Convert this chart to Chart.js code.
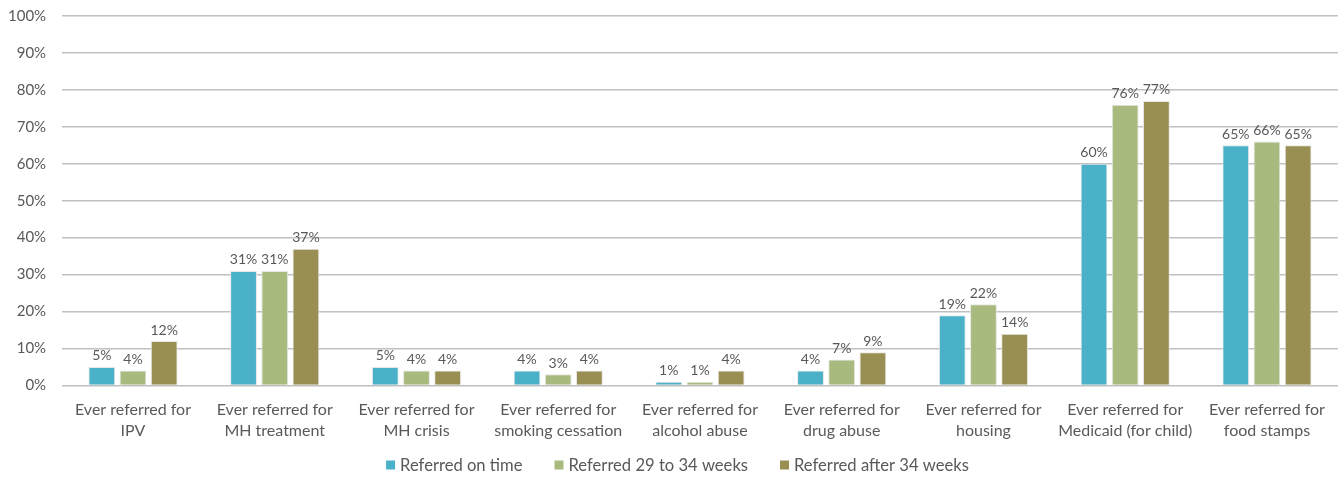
<!DOCTYPE html>
<html>
<head>
<meta charset="utf-8">
<script src="https://cdn.jsdelivr.net/npm/chart.js@4/dist/chart.umd.min.js"></script>
<style>
  html, body { margin: 0; padding: 0; background: #fff; }
  #wrap { width: 1339px; height: 479px; }
</style>
</head>
<body>
<div id="wrap"><canvas id="c" width="1339" height="479"></canvas></div>
<script>
const categories = [
  ["Ever referred for", "IPV"],
  ["Ever referred for", "MH treatment"],
  ["Ever referred for", "MH crisis"],
  ["Ever referred for", "smoking cessation"],
  ["Ever referred for", "alcohol abuse"],
  ["Ever referred for", "drug abuse"],
  ["Ever referred for", "housing"],
  ["Ever referred for", "Medicaid (for child)"],
  ["Ever referred for", "food stamps"]
];
const seriesNames = ["Referred on time", "Referred 29 to 34 weeks", "Referred after 34 weeks"];
const onTime = [5, 31, 5, 4, 1, 4, 19, 60, 65];
const weeks29to34 = [4, 31, 4, 3, 1, 7, 22, 76, 66];
const after34 = [12, 37, 4, 4, 4, 9, 14, 77, 65];
const yTicks = [0, 10, 20, 30, 40, 50, 60, 70, 80, 90, 100];

const colors = ["#4BB1C8", "#A8BA7E", "#9A8F53"];
const FONT = "Lato, 'Open Sans', sans-serif";
const TEXT = "#595959";

// Draws the percentage value just above each bar
const valueLabels = {
  id: "valueLabels",
  afterDatasetsDraw(chart) {
    const ctx = chart.ctx;
    ctx.save();
    ctx.font = "14px " + FONT;
    ctx.fillStyle = TEXT;
    ctx.textAlign = "center";
    ctx.textBaseline = "bottom";
    chart.data.datasets.forEach((ds, i) => {
      chart.getDatasetMeta(i).data.forEach((bar, j) => {
        ctx.fillText(ds.data[j] + "%", bar.x, bar.y - 4);
      });
    });
    ctx.restore();
  }
};

// Legend row along the bottom: small square swatch, then the series name
const bottomLegend = {
  id: "bottomLegend",
  afterDraw(chart) {
    const ctx = chart.ctx;
    const box = 9, boxGap = 5, itemGap = 32;
    ctx.save();
    ctx.font = "16.6px " + FONT;
    ctx.textBaseline = "middle";
    ctx.textAlign = "left";
    const ds = chart.data.datasets;
    const widths = ds.map(d => box + boxGap + ctx.measureText(d.label).width);
    const total = widths.reduce((a, b) => a + b, 0) + itemGap * (ds.length - 1);
    let x = chart.width / 2 + 8 - total / 2;
    const y = chart.height - 14;
    ds.forEach((d, i) => {
      ctx.fillStyle = d.backgroundColor;
      ctx.fillRect(x, y - box / 2, box, box);
      ctx.fillStyle = TEXT;
      ctx.fillText(d.label, x + box + boxGap, y + 1);
      x += widths[i] + itemGap;
    });
    ctx.restore();
  }
};

const series = [onTime, weeks29to34, after34];
new Chart(document.getElementById("c"), {
  type: "bar",
  data: {
    labels: categories,
    datasets: series.map((d, i) => ({
      label: seriesNames[i],
      data: d,
      backgroundColor: colors[i],
      borderColor: "#e6e6e6",
      borderWidth: 1,
      categoryPercentage: 0.66,
      barPercentage: 0.86
    }))
  },
  options: {
    responsive: false,
    animation: false,
    layout: { padding: { left: -8, right: 1, top: 16, bottom: 24 } },
    plugins: {
      legend: { display: false },
      tooltip: { enabled: false }
    },
    scales: {
      x: {
        grid: { display: false, drawTicks: false },
        border: { color: "#bfbfbf", width: 1 },
        ticks: {
          color: TEXT,
          font: { family: FONT, size: 16, lineHeight: 1.3 },
          padding: 14,
          maxRotation: 0,
          autoSkip: false
        }
      },
      y: {
        min: 0,
        max: 100,
        afterBuildTicks(axis) { axis.ticks = yTicks.map(v => ({ value: v })); },
        afterFit(axis) { axis.paddingTop = 0; },
        grid: { color: "#c0c0c0", lineWidth: 1.5, drawTicks: false },
        border: { display: false },
        ticks: {
          color: TEXT,
          font: { family: FONT, size: 15 },
          padding: 16,
          callback: v => v + "%"
        }
      }
    }
  },
  plugins: [valueLabels, bottomLegend]
});
</script>
</body>
</html>
